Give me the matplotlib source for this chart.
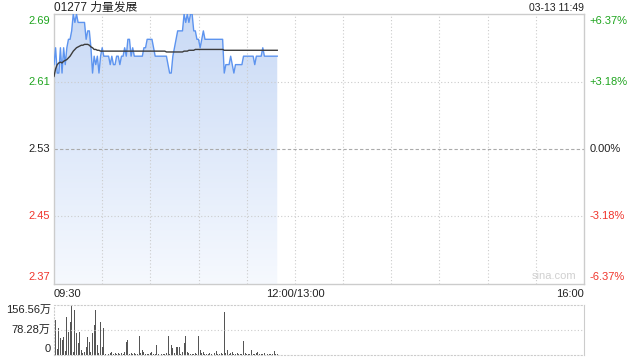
import matplotlib
matplotlib.use('Agg')
import matplotlib.pyplot as plt
import numpy as np
from matplotlib.colors import LinearSegmentedColormap

plt.rcParams['font.family'] = ['Liberation Sans', 'Noto Sans CJK SC']

# Data (one value per trading minute from 09:30)
title_text = '01277 力量发展'
stamp_text = '03-13 11:49'
prev_close = 2.53
price_ticks = [2.37, 2.45, 2.53, 2.61, 2.69]
pct_labels = ['-6.37%', '-3.18%', '0.00%', '+3.18%', '+6.37%']
time_labels = ['09:30', '12:00/13:00', '16:00']
vol_ticks = [0, 78.28, 156.56]
vol_labels = ['0', '78.28万', '156.56万']

prices = [
    2.63, 2.65, 2.62, 2.62, 2.65, 2.62, 2.65, 2.63, 2.65, 2.66,
    2.66, 2.67, 2.69, 2.68, 2.69, 2.68, 2.68, 2.68, 2.68, 2.68,
    2.66, 2.67, 2.67, 2.65, 2.62, 2.64, 2.63, 2.64, 2.62, 2.64,
    2.65, 2.64, 2.64, 2.64, 2.64, 2.63, 2.64, 2.63, 2.63, 2.64,
    2.64, 2.63, 2.64, 2.64, 2.65, 2.64, 2.66, 2.66, 2.64, 2.65,
    2.64, 2.64, 2.64, 2.64, 2.64, 2.64, 2.65, 2.65, 2.66, 2.66,
    2.66, 2.66, 2.65, 2.64, 2.64, 2.64, 2.64, 2.64, 2.64, 2.64,
    2.64, 2.63, 2.62, 2.62, 2.64, 2.65, 2.66, 2.67, 2.67, 2.67,
    2.67, 2.69, 2.68, 2.69, 2.68, 2.69, 2.69, 2.67, 2.67, 2.66,
    2.66, 2.65, 2.66, 2.67, 2.66, 2.66, 2.66, 2.66, 2.66, 2.66,
    2.66, 2.66, 2.66, 2.66, 2.66, 2.66, 2.62, 2.63, 2.63, 2.63,
    2.64, 2.63, 2.62, 2.63, 2.63, 2.63, 2.63, 2.63, 2.64, 2.64,
    2.64, 2.64, 2.64, 2.64, 2.64, 2.63, 2.64, 2.64, 2.64, 2.64,
    2.65, 2.64, 2.64, 2.64, 2.64, 2.64, 2.64, 2.64, 2.64, 2.64,
]

avg_prices = [
    2.616, 2.625, 2.630, 2.632, 2.633, 2.632, 2.634, 2.635, 2.636, 2.638,
    2.640, 2.643, 2.646, 2.648, 2.650, 2.651, 2.652, 2.653, 2.653, 2.654,
    2.654, 2.654, 2.653, 2.651, 2.650, 2.648, 2.648, 2.647, 2.647, 2.646,
    2.646, 2.646, 2.646, 2.646, 2.646, 2.646, 2.646, 2.646, 2.646, 2.646,
    2.646, 2.646, 2.646, 2.646, 2.646, 2.646, 2.646, 2.646, 2.646, 2.646,
    2.646, 2.646, 2.646, 2.646, 2.646, 2.646, 2.646, 2.646, 2.646, 2.646,
    2.646, 2.646, 2.646, 2.646, 2.646, 2.646, 2.646, 2.646, 2.646, 2.646,
    2.645, 2.645, 2.645, 2.645, 2.645, 2.645, 2.645, 2.645, 2.645, 2.645,
    2.645, 2.646, 2.646, 2.646, 2.647, 2.647, 2.647, 2.647, 2.648, 2.648,
    2.648, 2.648, 2.648, 2.648, 2.648, 2.648, 2.648, 2.648, 2.648, 2.648,
    2.648, 2.648, 2.648, 2.648, 2.648, 2.648, 2.647, 2.647, 2.647, 2.647,
    2.647, 2.647, 2.647, 2.647, 2.647, 2.647, 2.647, 2.647, 2.647, 2.647,
    2.647, 2.647, 2.647, 2.647, 2.647, 2.647, 2.647, 2.647, 2.647, 2.647,
    2.647, 2.647, 2.647, 2.647, 2.647, 2.647, 2.647, 2.647, 2.647, 2.647,
]

# volume in 万 shares
volumes = [
    110, 110, 20, 83, 52, 47, 57, 12, 120, 73,
    104, 156, 10, 141, 68, 37, 73, 16, 5, 10,
    26, 57, 42, 8, 68, 94, 141, 31, 6, 104,
    26, 83, 4, 10, 3, 5, 8, 3, 5, 4,
    6, 3, 5, 4, 8, 40, 47, 3, 5, 3,
    6, 4, 3, 60, 5, 15, 8, 3, 4, 3,
    6, 10, 3, 4, 31, 3, 5, 3, 4, 3,
    5, 60, 4, 31, 22, 5, 26, 26, 26, 4,
    8, 39, 60, 10, 5, 3, 4, 3, 5, 3,
    60, 15, 5, 10, 3, 4, 3, 5, 3, 4,
    6, 12, 3, 4, 5, 3, 136, 6, 15, 4,
    5, 10, 3, 4, 5, 3, 4, 3, 45, 5,
    3, 4, 3, 15, 4, 3, 5, 10, 3, 4,
    3, 5, 2, 3, 2, 3, 2, 12, 2, 3,
]

minutes = np.arange(len(prices))
total_minutes = 330

W, H = 640, 360
fig = plt.figure(figsize=(6.4, 3.6), dpi=100)

# Main price panel
ax = fig.add_axes([54 / W, 1 - 284 / H, 530 / W, 270 / H])
ax.set_xlim(0, total_minutes)
ax.set_ylim(price_ticks[0], price_ticks[-1])

# gradient fill under the price line
cmap = LinearSegmentedColormap.from_list('fade', ['#f6f9fe', '#c9daf6'])
grad = np.linspace(0, 1, 256).reshape(-1, 1)
poly = ax.fill_between(minutes, prices, price_ticks[0], color='none', lw=0)
img = ax.imshow(grad, cmap=cmap, origin='lower', aspect='auto',
                extent=[0, minutes[-1], price_ticks[0], price_ticks[-1]], zorder=1)
clip = poly.get_paths()[0]
img.set_clip_path(clip, transform=ax.transData)

ax.plot(minutes, prices, color='#5d94ef', lw=1.0, zorder=4)
ax.plot(minutes, avg_prices, color='#3c3c3c', lw=1.0, zorder=5)

# grid lines
for v in price_ticks[1:-1]:
    if v == prev_close:
        ax.axhline(v, color='#aaaaaa', lw=0.8, ls=(0, (3, 2)), zorder=2)
    else:
        ax.axhline(v, color='#cccccc', lw=0.8, ls=(0, (1, 2)), zorder=2)
for t in range(30, total_minutes, 30):
    ax.axvline(t, color='#cccccc', lw=0.8, ls=(0, (1, 2)), zorder=2)

ax.set_xticks([])
ax.set_yticks([])
for s in ax.spines.values():
    s.set_color('#cccccc')
    s.set_linewidth(1.0)

# price / percent labels
green, red, dark = '#1fa51f', '#f0352c', '#222222'
for i, (v, p) in enumerate(zip(price_ticks, pct_labels)):
    col = red if v < prev_close else (green if v > prev_close else dark)
    va = 'bottom' if i == 0 else ('top' if i == len(price_ticks) - 1 else 'center')
    off = 0.002 if i == 0 else (-0.002 if i == len(price_ticks) - 1 else 0)
    ax.text(-0.008, v + off, f'{v:.2f}', transform=ax.get_yaxis_transform(),
            ha='right', va=va, color=col, fontsize=8)
    ax.text(1.01, v + off, p, transform=ax.get_yaxis_transform(),
            ha='left', va=va, color=col, fontsize=8)

# title and timestamp
fig.text(54 / W, 1 - 8 / H, title_text, ha='left', va='center', fontsize=8.5, color='#222222')
fig.text(584 / W, 1 - 8 / H, stamp_text, ha='right', va='center', fontsize=7.5, color='#222222')
ax.text(0.985, 0.01, 'sina.com', transform=ax.transAxes, ha='right', va='bottom',
        fontsize=8, color='#d0d0d0')

# time axis labels
fig.text(54 / W, 1 - 294 / H, time_labels[0], ha='left', va='center', fontsize=8, color='#222222')
fig.text(295 / W, 1 - 294 / H, time_labels[1], ha='center', va='center', fontsize=8, color='#222222')
fig.text(584 / W, 1 - 294 / H, time_labels[2], ha='right', va='center', fontsize=8, color='#222222')

# Volume panel
vax = fig.add_axes([54 / W, 1 - 355 / H, 530 / W, 50 / H])
vax.set_xlim(0, total_minutes)
vax.set_ylim(0, vol_ticks[-1])
vax.bar(minutes, volumes, width=0.6, color='#555555', lw=0)
vax.axhline(vol_ticks[1], color='#cccccc', lw=0.8, ls=(0, (1, 2)))
vax.set_xticks([])
vax.set_yticks([])
for name, s in vax.spines.items():
    s.set_color('#cccccc')
    s.set_linewidth(0.8)
    if name != 'right':
        s.set_linestyle((0, (1, 2)))

for i, (v, lab) in enumerate(zip(vol_ticks, vol_labels)):
    va = 'bottom' if i == 0 else ('top' if i == len(vol_ticks) - 1 else 'center')
    off = 2 if i == 0 else (-1 if i == len(vol_ticks) - 1 else 0)
    vax.text(-0.006, v + off, lab, transform=vax.get_yaxis_transform(),
             ha='right', va=va, fontsize=8, color='#222222')

fig.savefig('out.png', dpi=100)
